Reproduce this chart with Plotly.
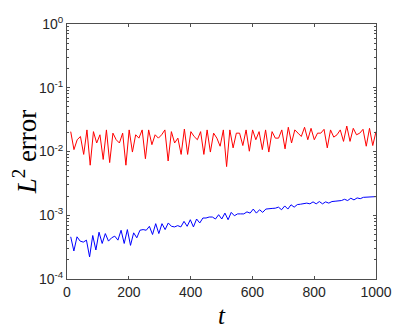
import numpy as np
import plotly.graph_objects as go

red_err = [
    0.0205, 0.0107, 0.0153, 0.0172, 0.0090, 0.0218, 0.0061, 0.0205, 0.0136, 0.0183,
    0.0075, 0.0218, 0.0067, 0.0194, 0.0153, 0.0136, 0.0194, 0.0061, 0.0218, 0.0098,
    0.0183, 0.0162, 0.0218, 0.0077, 0.0218, 0.0128, 0.0183, 0.0162, 0.0183, 0.0218,
    0.0071, 0.0205, 0.0136, 0.0162, 0.0090, 0.0225, 0.0090, 0.0205, 0.0172, 0.0153,
    0.0205, 0.0090, 0.0218, 0.0098, 0.0194, 0.0162, 0.0121, 0.0218, 0.0058, 0.0218,
    0.0114, 0.0194, 0.0194,
    0.0124, 0.0218, 0.0101, 0.0218, 0.0153, 0.0205, 0.0107, 0.0218, 0.0098, 0.0205,
    0.0162, 0.0162, 0.0218, 0.0110, 0.0240, 0.0136, 0.0218, 0.0194, 0.0172, 0.0240,
    0.0153, 0.0231, 0.0153, 0.0194, 0.0194, 0.0223, 0.0114, 0.0218, 0.0168, 0.0183,
    0.0218, 0.0144, 0.0251, 0.0144, 0.0231, 0.0183, 0.0194, 0.0223, 0.0121, 0.0231,
    0.0124, 0.0205,
]

blue_err = [
    4.59e-4, 2.75e-4, 4.59e-4, 3.93e-4, 3.79e-4, 4.07e-4, 2.22e-4, 4.81e-4, 2.85e-4, 5.42e-4,
    3.61e-4, 5.16e-4, 3.93e-4, 4.43e-4, 4.70e-4, 4.07e-4, 5.82e-4, 3.61e-4, 5.96e-4, 3.37e-4,
    5.30e-4, 4.43e-4, 5.82e-4, 5.96e-4, 5.82e-4, 6.71e-4, 4.99e-4, 7.38e-4, 5.16e-4, 7.38e-4,
    5.96e-4, 7.57e-4, 6.71e-4, 6.56e-4, 6.87e-4, 6.56e-4, 8.02e-4, 6.71e-4, 8.51e-4, 6.56e-4,
    8.73e-4, 7.57e-4, 9.05e-4, 9.05e-4, 9.38e-4, 9.38e-4, 8.73e-4, 1.02e-3, 8.73e-4, 1.08e-3,
    8.51e-4, 1.11e-3, 9.82e-4, 1.05e-3, 1.05e-3, 1.05e-3,
    1.13e-3, 1.08e-3, 1.25e-3, 1.08e-3, 1.22e-3, 1.11e-3, 1.25e-3, 1.28e-3, 1.28e-3, 1.29e-3,
    1.34e-3, 1.22e-3, 1.40e-3, 1.25e-3, 1.46e-3, 1.34e-3, 1.47e-3, 1.49e-3, 1.51e-3, 1.55e-3,
    1.51e-3, 1.62e-3, 1.51e-3, 1.64e-3, 1.51e-3, 1.62e-3, 1.55e-3, 1.64e-3, 1.66e-3, 1.68e-3,
    1.70e-3, 1.78e-3, 1.70e-3, 1.85e-3, 1.74e-3, 1.87e-3, 1.82e-3, 1.91e-3, 1.91e-3, 1.94e-3,
    1.96e-3, 1.96e-3,
]

# sample times (evenly spaced output steps)
t_red = np.linspace(12, 1000, len(red_err))
t_blue = np.linspace(12, 1000, len(blue_err))

decades = [-4, -3, -2, -1, 0]
y_tickvals = [10.0 ** d for d in decades]
y_ticktext = ["10<sup>%d</sup>" % d for d in decades]
y_minorvals = [m * 10.0 ** d for d in decades[:-1] for m in range(2, 10)]
x_tickvals = [0, 200, 400, 600, 800, 1000]

axis_color = "#262626"
line_gray = "#4d4d4d"
serif = "Liberation Serif, DejaVu Serif, serif"

fig = go.Figure()
fig.add_trace(go.Scatter(x=t_red, y=red_err, mode="lines",
                         line=dict(color="#ff0000", width=1), showlegend=False))
fig.add_trace(go.Scatter(x=t_blue, y=blue_err, mode="lines",
                         line=dict(color="#0000ff", width=1), showlegend=False))

# page body adds 8px on top/left, so the figure is a bit smaller than the window
fig.update_layout(
    width=407, height=325,
    margin=dict(l=59, r=39, t=16, b=54),
    plot_bgcolor="white", paper_bgcolor="white",
    font=dict(family="Liberation Sans, Arial", size=14, color=axis_color),
)

fig.update_xaxes(
    range=[0, 1000], tickvals=x_tickvals, automargin=False,
    showline=True, linecolor=line_gray, linewidth=1, mirror="ticks",
    ticks="inside", ticklen=3, tickcolor=line_gray,
    showgrid=False, zeroline=False,
    title=dict(text="<i>t</i>", font=dict(family=serif, size=25, color="#000"), standoff=7),
)

fig.update_yaxes(
    type="log", range=[-4, 0], tickvals=y_tickvals, ticktext=y_ticktext, automargin=False,
    showline=True, linecolor=line_gray, linewidth=1, mirror="ticks",
    ticks="inside", ticklen=3, tickcolor=line_gray,
    minor=dict(tickvals=y_minorvals, ticks="inside", ticklen=2, tickcolor=line_gray, showgrid=False),
    showgrid=False, zeroline=False,
    title=dict(text="<i>L</i><sup>2</sup> error", font=dict(family=serif, size=27, color="#000"), standoff=12),
)

fig.write_html("out.html")
